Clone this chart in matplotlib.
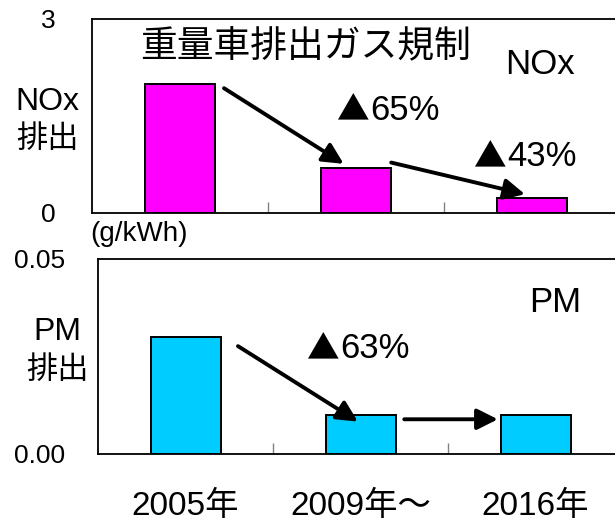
import matplotlib
matplotlib.use("Agg")
import matplotlib.pyplot as plt

plt.rcParams['font.family'] = ['Liberation Sans', 'Noto Sans CJK JP', 'DejaVu Sans']

# Data
years = ["2005年", "2009年～", "2016年"]
nox = [2.0, 0.7, 0.23]        # g/kWh
pm = [0.03, 0.01, 0.01]       # g/kWh
nox_ticks = [0, 3]
nox_ticklabels = ["0", "3"]
pm_ticks = [0.0, 0.05]
pm_ticklabels = ["0.00", "0.05"]
nox_cuts = ["65%", "43%"]
pm_cuts = ["63%"]

W, H = 615, 524
fig = plt.figure(figsize=(W / 100, H / 100), dpi=100)


def px(x, y):
    return x / W, 1 - y / H


def axes_px(l, t, r, b):
    return [l / W, 1 - b / H, (r - l) / W, (b - t) / H]


ax1 = fig.add_axes(axes_px(92, 19, 620, 213))
ax2 = fig.add_axes(axes_px(98, 259, 623, 453.5))

x = list(range(len(years)))


def style(ax, ylim, ticks, labels, pad):
    ax.set_xlim(-0.5, len(years) - 0.5)
    ax.set_ylim(*ylim)
    for s in ["left", "top", "bottom"]:
        ax.spines[s].set_linewidth(1.3)
        ax.spines[s].set_color("black")
    ax.spines["right"].set_visible(False)
    ax.set_yticks(ticks)
    ax.set_yticklabels(labels, fontsize=19)
    ax.tick_params(axis="y", length=0, pad=pad)
    ax.set_xticks([i + 0.5 for i in x[:-1]], minor=True)
    ax.tick_params(axis="x", which="minor", direction="in", length=8,
                   width=1.0, color="#808080")


ax1.bar(x, nox, width=0.4, color="#FF00FF", edgecolor="black", linewidth=1.4)
style(ax1, (0, 3), nox_ticks, nox_ticklabels, 26)
ax1.set_xticks([])
ax1.set_xticks([i + 0.5 for i in x[:-1]], minor=True)

ax2.bar(x, pm, width=0.4, color="#00CCFF", edgecolor="black", linewidth=1.4)
style(ax2, (0, 0.05), pm_ticks, pm_ticklabels, 24)
ax2.set_xticks(x)
ax2.set_xticklabels(years, fontsize=24)
ax2.tick_params(axis="x", which="major", length=0, pad=27)

arrow = dict(arrowstyle="-|>,head_length=0.7,head_width=0.35",
             color="black", lw=2.8, mutation_scale=18, shrinkA=0, shrinkB=0)

# NOx reduction arrows
ax1.annotate("", xy=(0.93, nox[1] + 0.06), xytext=(0.25, nox[0] * 0.965),
             arrowprops=arrow)
ax1.annotate("", xy=(1.96, nox[2] + 0.06), xytext=(1.2, nox[1] + 0.08),
             arrowprops=arrow)

# PM reduction arrows
ax2.annotate("", xy=(0.985, pm[1] - 0.0018), xytext=(0.30, pm[0] * 0.92),
             arrowprops=arrow)
ax2.annotate("", xy=(1.785, pm[2] - 0.0012), xytext=(1.25, pm[1] - 0.0012),
             arrowprops=arrow)


def reduction(xs, y, value):
    # Filled triangle from the CJK font, then the percentage
    fig.text(*px(xs, y + 1), "▲", fontsize=23.5, family=["Noto Sans CJK JP"],
             ha="right", va="center")
    fig.text(*px(xs + 1, y), value, fontsize=25, ha="left", va="center")


# Labels
fig.text(*px(306, 48), "重量車排出ガス規制", fontsize=26.5, ha="center", va="center")
fig.text(*px(540, 64), "NOx", fontsize=25, ha="center", va="center")
reduction(369, 110, nox_cuts[0])
reduction(506, 157, nox_cuts[1])
fig.text(*px(555, 303), "PM", fontsize=25, ha="center", va="center")
reduction(339, 349, pm_cuts[0])

fig.text(*px(47, 102), "NOx", fontsize=23, ha="center", va="center")
fig.text(*px(47, 140), "排出", fontsize=22.5, ha="center", va="center")
fig.text(*px(57, 332), "PM", fontsize=23, ha="center", va="center")
fig.text(*px(57, 371), "排出", fontsize=22.5, ha="center", va="center")
fig.text(*px(90, 234), "(g/kWh)", fontsize=20, ha="left", va="center")

fig.savefig("out.png", dpi=100)
